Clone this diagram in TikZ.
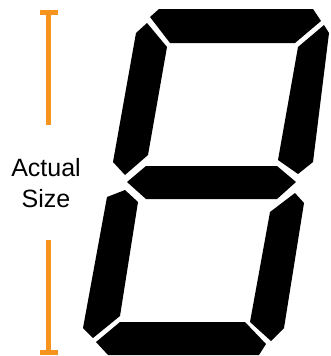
\documentclass[tikz,border=0pt]{standalone}
\usepackage{fontspec}
\setmainfont{Liberation Sans}
\usepackage{tikz}
\usetikzlibrary{positioning}
\definecolor{rulerorange}{RGB}{247,148,29}
\definecolor{segdark}{RGB}{0,0,0}
\tikzset{
  segment/.style={fill=segdark, draw=none},
  ruler/.style={draw=rulerorange, line width=5pt},
  sizelabel/.style={align=center, inner sep=0pt, font=\fontsize{25}{31}\selectfont},
}
\begin{document}
\begin{tikzpicture}[x=1pt, y=-1pt]
\useasboundingbox (0,0) rectangle (331,356);
\fill[segment] (159,9) -- (313,9) -- (321,21) -- (295,43) -- (170,43) -- (150,17) -- cycle;
\fill[segment] (147,23) -- (167,47) -- (148,155) -- (125,175) -- (113,162) -- (136,33) -- cycle;
\fill[segment] (324,25) -- (329,33) -- (313,162) -- (298,174) -- (278,160) -- (298,47) -- cycle;
\fill[segment] (127,182) -- (146,166) -- (277,166) -- (296,182) -- (277,199) -- (146,199) -- cycle;
\fill[segment] (125,190) -- (138,202) -- (120,316) -- (93,338) -- (83,328) -- (107,197) -- cycle;
\fill[segment] (295,193) -- (304,203) -- (284,328) -- (271,341) -- (250,322) -- (270,212) -- cycle;
\fill[segment] (96,342) -- (120,322) -- (245,322) -- (266,344) -- (259,355) -- (108,355) -- cycle;
\node[sizelabel] (label) at (46,183) {Actual\\Size};
\coordinate (rtop) at (48.5,12);
\coordinate (rup) at (48.5,125);
\coordinate (rlow) at (48.5,240);
\coordinate (rbot) at (48.5,352);
\draw[ruler] (rtop) -- (rup);
\draw[ruler] (rlow) -- (rbot);
\draw[ruler] ([xshift=-9pt]rtop) -- ([xshift=9pt]rtop);
\draw[ruler] ([xshift=-9pt]rbot) -- ([xshift=9pt]rbot);
\end{tikzpicture}
\end{document}
